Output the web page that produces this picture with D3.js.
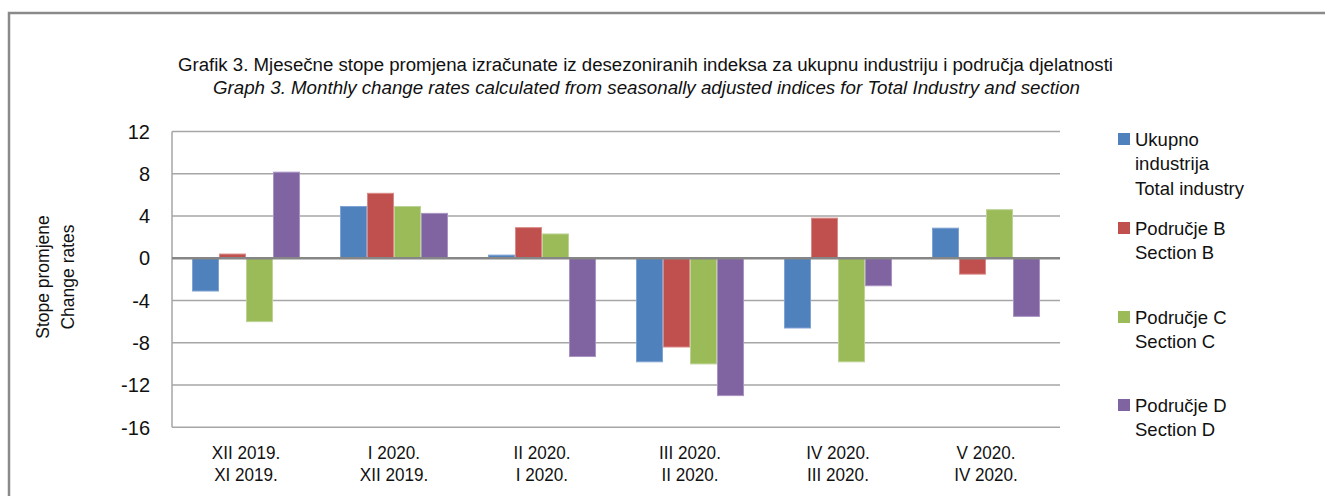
<!DOCTYPE html>
<html>
<head>
<meta charset="utf-8">
<script src="https://cdn.jsdelivr.net/npm/d3@7"></script>
<style>
  html, body { margin: 0; padding: 0; background: #fff; }
  svg { display: block; }
</style>
</head>
<body>
<svg id="chart" width="1325" height="496"></svg>
<script>
const categoriesTop = ["XII 2019.", "I 2020.", "II 2020.", "III 2020.", "IV 2020.", "V 2020."];
const categoriesBottom = ["XI 2019.", "XII 2019.", "I 2020.", "II 2020.", "III 2020.", "IV 2020."];
const totalIndustry = [-3.1, 4.9, 0.3, -9.8, -6.6, 2.85];
const sectionB = [0.4, 6.15, 2.9, -8.4, 3.8, -1.5];
const sectionC = [-6.0, 4.9, 2.3, -10.0, -9.8, 4.6];
const sectionD = [8.15, 4.25, -9.3, -13.0, -2.6, -5.5];
const seriesNames = [
  ["Ukupno", "industrija", "Total industry"],
  ["Područje B", "Section B"],
  ["Područje C", "Section C"],
  ["Područje D", "Section D"]
];
const yTicks = [12, 8, 4, 0, -4, -8, -12, -16];
const colors = ["#4F81BD", "#C0504D", "#9BBB59", "#8064A2"];
const strokes = ["#7FA3D3", "#D98A88", "#BCD396", "#A893C2"];

const svg = d3.select("#chart");
const regular = "'Liberation Sans', Arial, sans-serif";

// outer frame
svg.append("path")
  .attr("d", "M9,496 L9,13 L1325,13")
  .attr("fill", "none").attr("stroke", "#8a8a8a").attr("stroke-width", 2.5);

// titles (condensed look via textLength)
svg.append("text").attr("x", 178).attr("y", 71)
  .attr("font-family", regular).attr("font-size", 18).attr("fill", "#111")
  .attr("textLength", 935).attr("lengthAdjust", "spacingAndGlyphs")
  .text("Grafik 3. Mjesečne stope promjena izračunate iz desezoniranih indeksa za ukupnu industriju i područja djelatnosti");
svg.append("text").attr("x", 213).attr("y", 94)
  .attr("font-family", regular).attr("font-size", 18).attr("font-style", "italic").attr("fill", "#111")
  .attr("textLength", 867).attr("lengthAdjust", "spacingAndGlyphs")
  .text("Graph 3. Monthly change rates calculated from seasonally adjusted indices for Total Industry and section");

const plotLeft = 172, plotRight = 1060, plotTop = 131.5, plotBottom = 427.3;

const y = d3.scaleLinear().domain([-16, 12]).range([plotBottom, plotTop]);
const x0 = d3.scaleBand().domain(d3.range(categoriesTop.length)).range([plotLeft, plotRight]).paddingInner(0.27).paddingOuter(0.135);
const x1 = d3.scaleBand().domain(d3.range(4)).range([0, x0.bandwidth()]);

// gridlines
svg.append("g").selectAll("line").data(yTicks).join("line")
  .attr("x1", plotLeft).attr("x2", plotRight)
  .attr("y1", d => y(d)).attr("y2", d => y(d))
  .attr("stroke", "#a6a6a6").attr("stroke-width", 1.5);

// y axis line
svg.append("line").attr("x1", plotLeft).attr("x2", plotLeft).attr("y1", plotTop).attr("y2", plotBottom)
  .attr("stroke", "#a6a6a6").attr("stroke-width", 1.5);

// y tick labels
svg.append("g").selectAll("text").data(yTicks).join("text")
  .attr("x", 150).attr("y", d => y(d)).attr("dy", "0.36em").attr("text-anchor", "end")
  .attr("font-family", regular).attr("font-size", 20).attr("fill", "#111")
  .text(d => d);

// y axis title
const yt = svg.append("text").attr("transform", "translate(0,277) rotate(-90)")
  .attr("text-anchor", "middle").attr("font-family", regular).attr("font-size", 17.5).attr("fill", "#111");
yt.append("tspan").attr("x", 0).attr("y", 49).text("Stope promjene");
yt.append("tspan").attr("x", 0).attr("y", 74).text("Change rates");

// bars
const allSeries = [totalIndustry, sectionB, sectionC, sectionD];
const groups = svg.append("g").selectAll("g").data(categoriesTop).join("g")
  .attr("transform", (d, i) => `translate(${x0(i)},0)`);
groups.selectAll("rect").data((d, i) => allSeries.map((s, k) => ({k, v: s[i]}))).join("rect")
  .attr("x", d => x1(d.k) + 0.5)
  .attr("width", x1.bandwidth() - 1)
  .attr("y", d => y(Math.max(0, d.v)))
  .attr("height", d => Math.abs(y(d.v) - y(0)))
  .attr("fill", d => colors[d.k])
  .attr("stroke", d => strokes[d.k]).attr("stroke-width", 1);

// zero line
svg.append("line").attr("x1", plotLeft).attr("x2", plotRight).attr("y1", y(0)).attr("y2", y(0))
  .attr("stroke", "#868686").attr("stroke-width", 2.5);

// x labels (horizontally condensed)
const xl = svg.append("g").selectAll("g").data(categoriesTop).join("g")
  .attr("transform", (d, i) => `translate(${x0(i) + x0.bandwidth() / 2},0) scale(0.9,1)`);
const xt = xl.append("text").attr("text-anchor", "middle").attr("font-family", regular)
  .attr("font-size", 19).attr("fill", "#111");
xt.append("tspan").attr("x", 0).attr("y", 459).text(d => d);
xt.append("tspan").attr("x", 0).attr("y", 481).text((d, i) => categoriesBottom[i]);

// legend
const legendY = [139, 228, 317, 405];
const lg = svg.append("g").selectAll("g").data(seriesNames).join("g")
  .attr("transform", (d, i) => `translate(1118,${legendY[i]})`);
lg.append("rect").attr("x", 0).attr("y", -6).attr("width", 12).attr("height", 12)
  .attr("fill", (d, i) => colors[i]);
lg.each(function(d) {
  const t = d3.select(this).append("text").attr("font-family", regular).attr("font-size", 18.5).attr("fill", "#111");
  d.forEach((line, j) => {
    t.append("tspan").attr("x", 17).attr("y", j * 24.5).attr("dy", "0.36em").text(line);
  });
});
</script>
</body>
</html>
